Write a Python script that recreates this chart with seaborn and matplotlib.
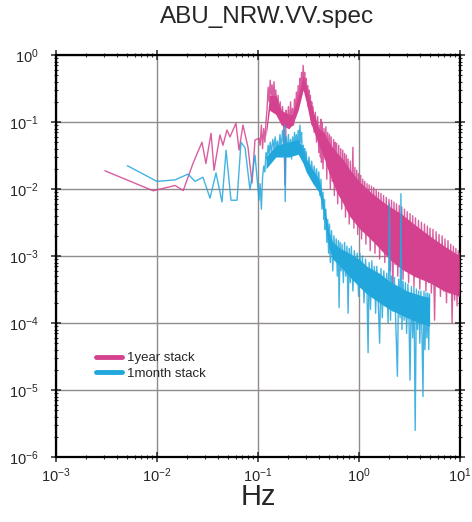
import matplotlib
matplotlib.use("Agg")
import matplotlib.pyplot as plt
from matplotlib.lines import Line2D
import pandas as pd
import seaborn as sns

# ---- 1 year stack (magenta) ----
year_freq = [0.00305, 0.0092, 0.0151, 0.0182, 0.0227, 0.0279, 0.0305, 0.0343, 0.0367, 0.042,
             0.045, 0.0493, 0.0528, 0.0605, 0.0649, 0.071, 0.0796, 0.0873, 0.0934, 0.1024,
             0.105, 0.108, 0.111, 0.114, 0.117, 0.12, 0.123, 0.126, 0.129, 0.132,
             0.135, 0.138, 0.141, 0.144, 0.147, 0.15, 0.154, 0.158, 0.162, 0.166,
             0.17, 0.175, 0.18, 0.185, 0.19, 0.195, 0.2, 0.205, 0.21, 0.215,
             0.22, 0.225, 0.23, 0.235, 0.24, 0.245, 0.25, 0.255, 0.26, 0.265,
             0.27, 0.275, 0.28, 0.285, 0.29, 0.295, 0.3, 0.305, 0.31, 0.315,
             0.32, 0.325, 0.33, 0.335, 0.34, 0.345, 0.35, 0.36, 0.37, 0.38,
             0.39, 0.4, 0.41, 0.415, 0.42, 0.425, 0.43, 0.44, 0.45, 0.46,
             0.47, 0.48, 0.49, 0.5, 0.51, 0.52, 0.53, 0.545, 0.56, 0.57,
             0.58, 0.59, 0.6, 0.615, 0.63, 0.645, 0.66, 0.675, 0.69, 0.705,
             0.72, 0.735, 0.75, 0.765, 0.78, 0.8, 0.82, 0.84, 0.87, 0.89,
             0.91, 0.93, 0.95, 0.97, 0.99, 1.01, 1.04, 1.06, 1.09, 1.11,
             1.14, 1.17, 1.2, 1.23, 1.26, 1.29, 1.33, 1.36, 1.4, 1.44,
             1.48, 1.52, 1.56, 1.6, 1.65, 1.7, 1.75, 1.8, 1.86, 1.92,
             1.98, 2.04, 2.1, 2.16, 2.22, 2.28, 2.35, 2.42, 2.5, 2.57,
             2.65, 2.73, 2.82, 2.9, 3.0, 3.1, 3.2, 3.3, 3.4, 3.5,
             3.62, 3.75, 3.88, 4.0, 4.15, 4.3, 4.45, 4.6, 4.75, 4.9,
             5.05, 5.2, 5.4, 5.6, 5.8, 6.0, 6.2, 6.4, 6.65, 6.9,
             7.1, 7.35, 7.6, 7.85, 8.1, 8.35, 8.6, 8.85, 9.1, 9.35,
             9.6, 9.8, 10.0]
year_amp = [0.0187, 0.0094, 0.0113, 0.0095, 0.024, 0.05, 0.024, 0.068, 0.019, 0.064,
            0.045, 0.076, 0.06, 0.096, 0.038, 0.09, 0.042, 0.0123, 0.054, 0.057,
            0.045, 0.09, 0.04, 0.08, 0.05, 0.1, 0.16, 0.33, 0.2, 0.42,
            0.25, 0.36, 0.18, 0.4, 0.22, 0.3, 0.15, 0.25, 0.12, 0.2,
            0.1, 0.17, 0.08, 0.0115, 0.15, 0.09, 0.17, 0.08, 0.2, 0.1,
            0.16, 0.09, 0.22, 0.12, 0.28, 0.15, 0.35, 0.2, 0.45, 0.3,
            0.55, 0.35, 0.7, 0.4, 0.55, 0.28, 0.45, 0.22, 0.35, 0.17,
            0.3, 0.14, 0.25, 0.11, 0.2, 0.09, 0.17, 0.07, 0.14, 0.05,
            0.12, 0.035, 0.09, 0.03, 0.11, 0.025, 0.1, 0.02, 0.08, 0.028,
            0.085, 0.014, 0.07, 0.02, 0.065, 0.01, 0.06, 0.013, 0.055, 0.008,
            0.05, 0.011, 0.048, 0.006, 0.045, 0.009, 0.04, 0.005, 0.038, 0.007,
            0.034, 0.0038, 0.032, 0.006, 0.028, 0.003, 0.026, 0.0045, 0.042, 0.0026,
            0.021, 0.0035, 0.019, 0.0021, 0.017, 0.003, 0.016, 0.0018, 0.014, 0.0026,
            0.013, 0.0015, 0.012, 0.0021, 0.0115, 0.0012, 0.011, 0.0017, 0.0105, 0.0011,
            0.0098, 0.0015, 0.009, 0.0009, 0.0086, 0.0012, 0.008, 0.0008, 0.0075, 0.001,
            0.007, 0.0006, 0.0068, 0.00025, 0.0064, 0.00075, 0.006, 0.0005, 0.0057, 0.0007,
            0.0054, 0.00045, 0.005, 0.0006, 0.0046, 0.0004, 0.0043, 0.00055, 0.004, 0.00035,
            0.0037, 0.0005, 0.0034, 0.00032, 0.0032, 0.00045, 0.003, 0.0003, 0.0028, 0.0004,
            0.0026, 0.00028, 0.0025, 0.00011, 0.0023, 0.00035, 0.0021, 0.00025, 0.002, 0.0003,
            0.0018, 0.0002, 0.0017, 0.00028, 0.0015, 0.0001, 0.0014, 0.00022, 0.0013, 0.00018,
            0.0012, 0.00025, 0.0011]
year_band_freq = [0.12, 0.13, 0.15, 0.17, 0.2, 0.22, 0.25, 0.28, 0.3, 0.33, 0.36,
                  0.4, 0.45, 0.5, 0.6, 0.7, 0.8, 1.0, 1.3, 1.6, 2.0, 2.6, 3.5, 5.0, 7.0, 10.0]
year_band_hi = [0.08, 0.25, 0.25, 0.15, 0.13, 0.13, 0.25, 0.5, 0.35, 0.2, 0.13,
                0.08, 0.07, 0.05, 0.035, 0.027, 0.02, 0.013, 0.009, 0.007, 0.0055, 0.0043,
                0.003, 0.002, 0.0014, 0.001]
year_band_lo = [0.06, 0.15, 0.13, 0.09, 0.08, 0.09, 0.15, 0.3, 0.2, 0.1, 0.07,
                0.045, 0.03, 0.018, 0.009, 0.006, 0.004, 0.0026, 0.0018, 0.0013, 0.0009, 0.00065,
                0.0005, 0.0004, 0.0003, 0.00025]

# ---- 1 month stack (cyan) ----
month_freq = [0.00508, 0.01, 0.0151, 0.0203, 0.0238, 0.0285, 0.0335, 0.0384, 0.044, 0.0483,
              0.054, 0.062, 0.0679, 0.0745, 0.0833, 0.0934, 0.1024,
              0.105, 0.108, 0.111, 0.114, 0.117, 0.12, 0.123, 0.126, 0.129, 0.132,
              0.136, 0.14, 0.144, 0.148, 0.152, 0.156, 0.16, 0.165, 0.17, 0.175,
              0.18, 0.183, 0.186, 0.19, 0.195, 0.2, 0.205, 0.21, 0.215, 0.22,
              0.225, 0.23, 0.235, 0.24, 0.245, 0.25, 0.255, 0.26, 0.265, 0.27,
              0.275, 0.28, 0.285, 0.29, 0.295, 0.3, 0.31, 0.32, 0.33, 0.34,
              0.35, 0.36, 0.37, 0.38, 0.39, 0.4, 0.41, 0.42, 0.43, 0.44,
              0.45, 0.455, 0.46, 0.47, 0.48, 0.49, 0.5, 0.51, 0.52, 0.535,
              0.55, 0.565, 0.58, 0.595, 0.61, 0.625, 0.635, 0.65, 0.665, 0.68,
              0.7, 0.72, 0.74, 0.76, 0.78, 0.8, 0.82, 0.84, 0.87, 0.9,
              0.93, 0.96, 0.99, 1.02, 1.05, 1.08, 1.12, 1.16, 1.2, 1.23,
              1.26, 1.3, 1.34, 1.38, 1.42, 1.46, 1.5, 1.55, 1.6, 1.65,
              1.7, 1.76, 1.82, 1.88, 1.94, 2.0, 2.05, 2.1, 2.17, 2.24,
              2.32, 2.4, 2.47, 2.55, 2.6, 2.66, 2.73, 2.8, 2.88, 2.96,
              3.05, 3.13, 3.2, 3.3, 3.4, 3.5, 3.6, 3.7, 3.8, 3.9,
              4.0, 4.1, 4.2, 4.3, 4.4, 4.5, 4.6, 4.7, 4.8, 4.9, 5.0]
month_amp = [0.0223, 0.013, 0.0137, 0.0167, 0.013, 0.015, 0.0073, 0.0174, 0.0064, 0.038,
             0.0068, 0.0068, 0.05, 0.041, 0.0097, 0.032, 0.0068,
             0.012, 0.005, 0.015, 0.022, 0.018, 0.035, 0.028, 0.045, 0.033, 0.05,
             0.035, 0.055, 0.04, 0.06, 0.038, 0.052, 0.035, 0.065, 0.04, 0.075,
             0.045, 0.09, 0.0065, 0.06, 0.035, 0.065, 0.03, 0.055, 0.028, 0.06,
             0.035, 0.07, 0.04, 0.065, 0.035, 0.075, 0.045, 0.09, 0.05, 0.07,
             0.03, 0.045, 0.025, 0.04, 0.022, 0.036, 0.018, 0.03, 0.016, 0.026,
             0.013, 0.022, 0.012, 0.02, 0.01, 0.018, 0.008, 0.014, 0.005, 0.009,
             0.0035, 0.007, 0.0025, 0.005, 0.0016, 0.0035, 0.0011, 0.003, 0.0008, 0.0024,
             0.0006, 0.002, 0.0009, 0.0018, 0.0005, 0.0017, 0.00017, 0.0016, 0.0006, 0.0015,
             0.0004, 0.0016, 0.0005, 0.0014, 0.00014, 0.0013, 0.0004, 0.0014, 0.0003, 0.0012,
             0.00045, 0.0011, 0.00025, 0.0011, 0.00035, 0.001, 0.0002, 0.0009, 0.0003, 0.000036,
             0.0008, 0.00016, 0.00085, 0.00025, 0.0007, 0.00014, 0.0007, 0.0002, 0.00005, 0.00065,
             0.00012, 0.0006, 0.00018, 0.00055, 0.0001, 0.006, 0.00011, 0.0005, 0.00015, 0.00048,
             0.00009, 0.000016, 0.00045, 0.00012, 0.0085, 0.00008, 0.00042, 0.00011, 0.0004, 0.00007,
             0.00038, 0.0001, 0.000014, 0.00035, 0.00006, 0.00034, 0.0000025, 0.00032, 0.00008, 0.0003,
             0.00005, 0.0003, 0.00007, 0.000008, 0.0003, 0.00004, 0.00028, 0.00006, 0.00028, 0.00004,
             0.00027]
month_band_freq = [0.12, 0.15, 0.2, 0.25, 0.28, 0.3, 0.35, 0.4, 0.44, 0.47, 0.5, 0.55, 0.65,
                   0.8, 1.0, 1.2, 1.6, 2.0, 3.0, 4.0, 5.0]
month_band_hi = [0.03, 0.045, 0.05, 0.055, 0.04, 0.028, 0.019, 0.014, 0.007, 0.004, 0.0024,
                 0.0016, 0.0013, 0.0011, 0.0009, 0.0007, 0.00055, 0.00042, 0.0003, 0.00026, 0.00024]
month_band_lo = [0.02, 0.03, 0.03, 0.033, 0.024, 0.018, 0.012, 0.009, 0.005, 0.0025, 0.0014,
                 0.0009, 0.0007, 0.0005, 0.00035, 0.00027, 0.0002, 0.00016, 0.00012, 0.0001, 0.00009]

x_ticks = [1e-3, 1e-2, 1e-1, 1e0, 1e1]
y_ticks = [1e-6, 1e-5, 1e-4, 1e-3, 1e-2, 1e-1, 1e0]

PINK = "#d4418e"
CYAN = "#22a7dd"

sns.set_style("ticks")
plt.rcParams["font.family"] = ["Liberation Sans", "DejaVu Sans"]
plt.rcParams["mathtext.fontset"] = "custom"
plt.rcParams["mathtext.rm"] = "Liberation Sans"

fig = plt.figure(figsize=(4.72, 5.22), dpi=100)
ax = fig.add_axes([0.1186, 0.1245, 0.856, 0.7701])
ax.set_xscale("log")
ax.set_yscale("log")

year = pd.DataFrame({"Hz": year_freq, "amp": year_amp})
month = pd.DataFrame({"Hz": month_freq, "amp": month_amp})

ax.fill_between(year_band_freq, year_band_lo, year_band_hi, color=PINK, lw=0, zorder=2)
sns.lineplot(data=year, x="Hz", y="amp", sort=False, estimator=None, ax=ax,
             color=PINK, lw=1.0, alpha=0.85, zorder=3)
ax.fill_between(month_band_freq, month_band_lo, month_band_hi, color=CYAN, lw=0, zorder=4)
sns.lineplot(data=month, x="Hz", y="amp", sort=False, estimator=None, ax=ax,
             color=CYAN, lw=1.0, alpha=0.85, zorder=5)

ax.set_xticks(x_ticks)
ax.set_yticks(y_ticks)
ax.set_xlim(1e-3, 1e1)
ax.set_ylim(1e-6, 1e0)
ax.xaxis.label.set_visible(False)
ax.yaxis.label.set_visible(False)

ax.grid(True, which="major", color="#928b8b", lw=1.0)
ax.set_axisbelow(True)
for s in ax.spines.values():
    s.set_linewidth(1.6)
    s.set_color("black")
ax.tick_params(which="major", direction="inout", length=7, width=1.1,
               top=True, right=True, labelsize=10.5, pad=3)
ax.tick_params(axis="y", which="major", pad=9)
ax.tick_params(which="minor", direction="inout", length=3.5, width=0.8,
               top=True, right=True)

handles = [Line2D([], [], color=PINK, lw=3.5), Line2D([], [], color=CYAN, lw=3.5)]
ax.legend(handles, ["1year stack", "1month stack"], loc="upper left",
          bbox_to_anchor=(0.085, 0.274), frameon=False, fontsize=9.5,
          handlelength=2.0, handletextpad=0.4, labelspacing=0.25, borderaxespad=0)

fig.text(0.566, 0.967, "ABU_NRW.VV.spec", fontsize=17.5, ha="center", va="center")
fig.text(0.547, 0.048, "Hz", fontsize=21, ha="center", va="center")

fig.savefig("out.png", dpi=100)
